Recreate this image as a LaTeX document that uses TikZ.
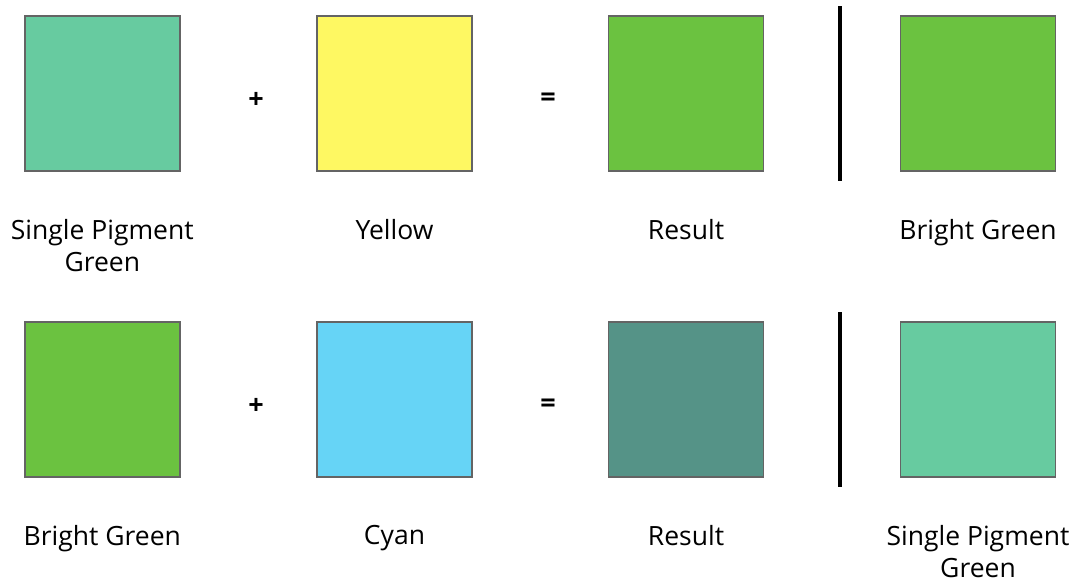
\documentclass[tikz,border=0pt]{standalone}
\usepackage{fontspec}
\setmainfont{Open Sans}
\definecolor{spgreen}{RGB}{103,203,160}
\definecolor{yel}{RGB}{254,248,98}
\definecolor{bgreen}{RGB}{107,194,64}
\definecolor{cyn}{RGB}{102,212,246}
\definecolor{res2}{RGB}{85,147,135}
\definecolor{edge}{RGB}{100,100,100}
\begin{document}
\begin{tikzpicture}[x=1pt,y=-1pt,
  swatch/.style={draw=edge,line width=1.5pt,minimum width=155pt,minimum height=155pt,inner sep=0pt,outer sep=0pt},
  lbl/.style={font=\fontsize{26.5}{32}\selectfont,align=center,anchor=north,inner sep=0pt},
  op/.style={font=\fontsize{27}{30}\selectfont\bfseries,inner sep=0pt},
  sep/.style={line width=4pt,black}]
\useasboundingbox (0,0) rectangle (1082,582);
% row 1
\node[swatch,fill=spgreen] (a1) at (102.3,93.5) {};
\node[swatch,fill=yel] (b1) at (394.5,93.5) {};
\node[swatch,fill=bgreen] (c1) at (686,93.5) {};
\node[swatch,fill=bgreen] (d1) at (978,93.5) {};
\node[op] (p1) at (256,100) {+};
\node[op] (e1) at (548,100) {=};
\coordinate (s1t) at (840.3,6);
\coordinate (s1b) at (840.3,181);
\draw[sep] (s1t) -- (s1b);
\node[lbl] (la1) at (102.3,219.5) {Single Pigment\\Green};
\node[lbl] (lb1) at (394.5,219.5) {Yellow};
\node[lbl] (lc1) at (686,219.5) {Result};
\node[lbl] (ld1) at (978,219.5) {Bright Green};
% row 2
\node[swatch,fill=bgreen] (a2) at (102.3,399.5) {};
\node[swatch,fill=cyn] (b2) at (394.5,399.5) {};
\node[swatch,fill=res2] (c2) at (686,399.5) {};
\node[swatch,fill=spgreen] (d2) at (978,399.5) {};
\node[op] (p2) at (256,406) {+};
\node[op] (e2) at (548,406) {=};
\coordinate (s2t) at (840.3,312);
\coordinate (s2b) at (840.3,487);
\draw[sep] (s2t) -- (s2b);
\node[lbl] (la2) at (102.3,525.5) {Bright Green};
\node[lbl] (lb2) at (394.5,525.5) {Cyan};
\node[lbl] (lc2) at (686,525.5) {Result};
\node[lbl] (ld2) at (978,525.5) {Single Pigment\\Green};
\end{tikzpicture}
\end{document}
